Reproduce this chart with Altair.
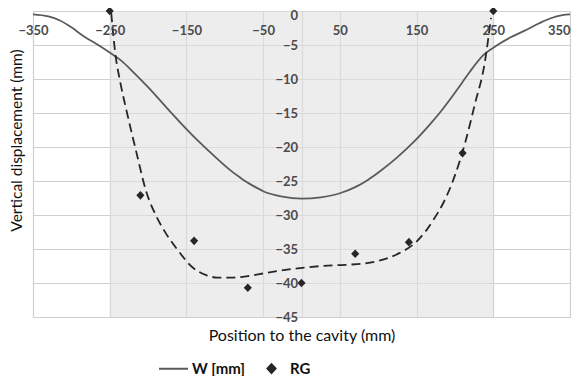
import altair as alt
import pandas as pd

# ---- data ----
w_x = [-350, -330, -315, -300, -284, -265, -250, -235, -220, -200, -176, -158, -132, -115, -93, -80, -71, -60, -50,
       -25, 0, 25, 50, 70, 87, 102, 124, 146, 168, 180, 202, 219, 237, 254, 272, 289, 310, 324, 340, 350]
w_y = [-0.5, -0.8, -1.4, -2.4, -3.7, -5.0, -6.1, -7.3, -8.9, -11.2, -14.2, -16.4, -19.4, -21.2, -23.4, -24.5, -25.2,
       -25.9, -26.5, -27.3, -27.6, -27.4, -26.8, -25.9, -24.8, -23.6, -21.6, -19.3, -16.6, -15.0, -11.7, -9.0, -6.5,
       -5.1, -3.9, -3.0, -1.8, -1.1, -0.6, -0.5]

fit_x = [-248, -243, -236, -228, -215, -202, -190, -179, -163, -141, -125, -110, -89, -70, -45, -2, 41, 63, 98, 124,
         150, 161, 172, 185, 198, 213, 226, 239, 244, 247]
fit_y = [-0.3, -6.0, -10.6, -14.7, -20.9, -26.7, -30.0, -32.3, -34.9, -37.8, -38.8, -39.2, -39.2, -39.0, -38.5, -37.8,
         -37.4, -37.3, -36.8, -35.8, -33.9, -32.5, -30.7, -28.2, -24.8, -19.5, -13.7, -7.5, -3.6, -1.0]

rg_x = [-250, -210, -140, -70, 0, 70, 140, 210, 250]
rg_y = [0, -27.1, -33.8, -40.7, -40.0, -35.7, -34.0, -20.9, 0]

shade_x = [-250]
shade_x2 = [250]

x_ticks = [-350, -250, -150, -50, 50, 150, 250, 350]
x_grid = [-350, -250, -150, -50, 0, 50, 150, 250, 350]
y_ticks = [0, -5, -10, -15, -20, -25, -30, -35, -40, -45]

series_names = ["W [mm]", "RG"]
# ---------------------------------------

W, H = 537, 306
FONT = "Lato"

w_df = pd.DataFrame({"x": w_x, "y": w_y, "series": series_names[0]})
fit_df = pd.DataFrame({"x": fit_x, "y": fit_y})
rg_df = pd.DataFrame({"x": rg_x, "y": rg_y, "series": series_names[1]})
shade_df = pd.DataFrame({"x": shade_x, "x2": shade_x2, "y": [0], "y2": [-45]})

xscale = alt.Scale(domain=[-350, 350], nice=False, zero=False)
yscale = alt.Scale(domain=[-45, 0], nice=False, zero=False)

color_scale = alt.Scale(domain=series_names, range=["#5a5a5a", "#262626"])
shape_scale = alt.Scale(domain=series_names,
                        range=["M-1,0L1,0", "M0,-0.3L0.28,0L0,0.3L-0.28,0Z"])

grid_x_axis = alt.Axis(orient="bottom", values=x_grid, grid=True, gridColor="#CFCFCF", gridWidth=1.2,
                       labels=False, ticks=False, tickSize=0, domain=False, title="Position to the cavity (mm)",
                       titlePadding=10, titleFont=FONT, titleFontSize=16, titleFontWeight="normal",
                       titleColor="#111111")
grid_y_axis = alt.Axis(orient="left", values=y_ticks, grid=True, gridColor="#CFCFCF", gridWidth=1.2,
                       labels=False, ticks=False, tickSize=0, domain=False, title="Vertical displacement (mm)",
                       titlePadding=9, titleFont=FONT, titleFontSize=15.5, titleFontWeight="normal",
                       titleColor="#111111", titleY=129)

lab_x_axis = alt.Axis(orient="bottom", offset=-H, values=x_ticks, grid=False, labels=True, labelFlush=False,
                      labelPadding=13, labelFont=FONT, labelFontSize=13, labelFontWeight="bold",
                      labelColor="#4a4a4a",
                      labelAlign={"condition": {"test": "datum.value == 350", "value": "right"},
                                  "value": "center"},
                      ticks=False, tickSize=0, domain=False, title=None, zindex=1)
lab_y_axis = alt.Axis(orient="left", offset=-W / 2, values=y_ticks, grid=False, labels=True,
                      labelPadding=4, labelFont=FONT, labelFontSize=13, labelFontWeight="bold",
                      labelColor="#4a4a4a",
                      labelOffset={"condition": {"test": "datum.value == 0", "value": 4}, "value": 0},
                      ticks=False, tickSize=0, domain=False, title=None, zindex=1)

shade = alt.Chart(shade_df).mark_rect(color="#E3E1E3", opacity=0.6).encode(
    x=alt.X("x:Q", scale=xscale, axis=grid_x_axis),
    x2="x2:Q",
    y=alt.Y("y:Q", scale=yscale, axis=grid_y_axis),
    y2="y2:Q",
)

legend = alt.Legend(title=None, orient="none", direction="horizontal", legendX=125, legendY=342,
                    labelFont=FONT, labelFontSize=15, labelFontWeight="bold", labelColor="#111111",
                    symbolSize=841, symbolStrokeWidth=2, labelOffset=3, columnPadding=10, padding=0)

w_line = alt.Chart(w_df).mark_line(strokeWidth=1.8, interpolate="monotone").encode(
    x=alt.X("x:Q", scale=xscale, axis=lab_x_axis),
    y=alt.Y("y:Q", scale=yscale, axis=lab_y_axis),
    color=alt.Color("series:N", scale=color_scale, legend=legend),
)

fit_line = alt.Chart(fit_df).mark_line(strokeWidth=1.8, color="#262626", strokeDash=[9, 5],
                                       interpolate="monotone").encode(
    x=alt.X("x:Q", scale=xscale, axis=None),
    y=alt.Y("y:Q", scale=yscale, axis=None),
)

rg_pts = alt.Chart(rg_df).mark_point(filled=True, size=841, opacity=1).encode(
    x=alt.X("x:Q", scale=xscale, axis=None),
    y=alt.Y("y:Q", scale=yscale, axis=None),
    color=alt.Color("series:N", scale=color_scale, legend=legend),
    shape=alt.Shape("series:N", scale=shape_scale, legend=legend),
)

chart = alt.layer(shade, w_line, fit_line, rg_pts).resolve_axis(x="independent", y="independent").properties(
    width=W, height=H, autosize=alt.AutoSizeParams(type="none"),
    padding={"left": 25, "top": 3, "right": 4, "bottom": 59},
).configure_view(stroke=None).configure(background="white")

chart.save("out.html", embed_options={"renderer": "svg", "actions": False})
